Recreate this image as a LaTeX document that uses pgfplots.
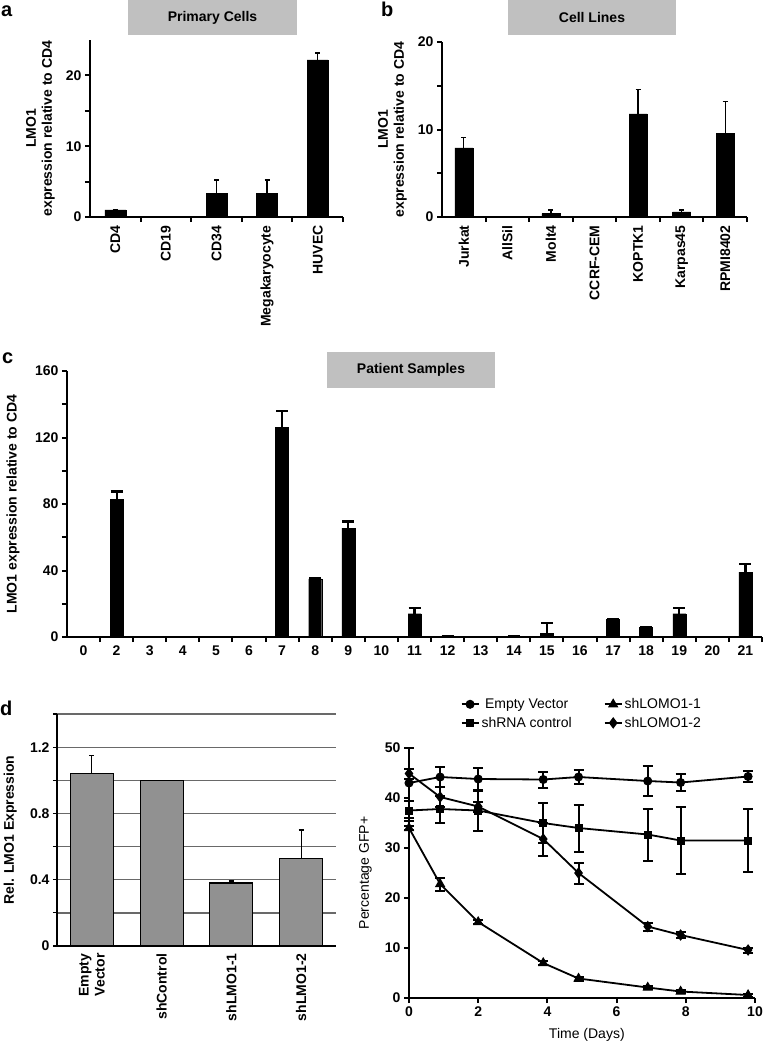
\documentclass[border=0pt]{standalone}
\usepackage{pgfplots}
\pgfplotsset{compat=1.18}
\usepackage{fontspec}
\setmainfont{Liberation Sans}
\definecolor{boxgray}{RGB}{192,192,192}
\definecolor{barg}{RGB}{145,145,145}
\definecolor{gridg}{RGB}{105,105,105}
\newcommand{\bfs}{\fontsize{14}{16}\selectfont\bfseries}
\newcommand{\rgs}{\fontsize{14}{16}\selectfont}
\newcommand{\pl}{\fontsize{20}{20}\selectfont\bfseries}
\pgfplotsset{
  base/.style={
    scale only axis, anchor=south west,
    axis x line*=bottom, axis y line*=left,
    enlargelimits=false,
    /pgf/number format/assume math mode=true,
    tick align=outside,
  },
  ylab/.style={every axis y label/.style={at={(axis description cs:#1,0.5)}, rotate=90, anchor=south, inner sep=0pt, align=center, font=\bfs}},
  blackbars/.style={
    base, ybar, ymin=0,
    axis line style={line width=2pt},
    tick style={line width=2pt, black},
    major tick length=5pt, minor tick length=5pt,
    major x tick style={draw=none},
    yticklabel style={font=\bfs},
  },
  errA/.style={fill=black, draw=black, error bars/.cd, y dir=plus, y explicit,
    error bar style={line width=1.3pt}, error mark options={rotate=90, mark size=2.5pt, line width=1.5pt}},
  errL/.style={black, line width=1.8pt, mark size=4pt, mark options={solid, line width=1pt},
    error bars/y dir=both, error bars/y explicit, error bars/error bar style={line width=2pt},
    error bars/error mark options={rotate=90, mark size=5pt, line width=2pt}},
}
\begin{document}
\begin{tikzpicture}
\useasboundingbox (0pt,0pt) rectangle (765pt,-1042pt);

% ---------------- panel a
\node[anchor=base west, inner sep=0pt, font=\pl] at (1pt,-16pt) {a};
\node[fill=boxgray, minimum width=169pt, minimum height=35pt, inner sep=0pt, font=\bfs] at (212.5pt,-17.5pt) {Primary Cells};
\begin{axis}[blackbars, at={(90pt,-217pt)}, width=253pt, height=177pt,
  xmin=-0.5, xmax=4.5, ymax=25,
  xtick={0,...,4}, xticklabels={CD4,CD19,CD34,Megakaryocyte,HUVEC},
  xticklabel style={rotate=90, anchor=east, font=\bfs},
  minor xtick={0.5,1.5,2.5,3.5,4.5},
  ytick={0,10,20}, minor ytick={5,15},
  bar width=21pt,
  ylab=-0.138, ylabel={LMO1\\expression relative to CD4}]
\addplot[errA] coordinates {(0,1.0) +- (0,0) (1,0) +- (0,0) (2,3.3) +- (0,1.9) (3,3.3) +- (0,1.9) (4,22.2) +- (0,1.0)};
\end{axis}

% ---------------- panel b
\node[anchor=base west, inner sep=0pt, font=\pl] at (381pt,-16pt) {b};
\node[fill=boxgray, minimum width=168pt, minimum height=35pt, inner sep=0pt, font=\bfs] at (592pt,-17.5pt) {Cell Lines};
\begin{axis}[blackbars, at={(442pt,-217pt)}, width=305pt, height=175pt,
  xmin=-0.5, xmax=6.5, ymax=20,
  xtick={0,...,6}, xticklabels={Jurkat,AllSil,Molt4,CCRF-CEM,KOPTK1,Karpas45,RPMI8402},
  xticklabel style={rotate=90, anchor=east, font=\bfs},
  minor xtick={0.5,1.5,2.5,3.5,4.5,5.5,6.5},
  ytick={0,10,20}, minor ytick={5,15},
  bar width=18pt,
  ylab=-0.115, ylabel={LMO1\\expression relative to CD4}]
\addplot[errA] coordinates {(0,7.9) +- (0,1.2) (1,0) +- (0,0) (2,0.4) +- (0,0.4) (3,0.05) +- (0,0) (4,11.8) +- (0,2.8) (5,0.6) +- (0,0.2) (6,9.6) +- (0,3.6)};
\end{axis}

% ---------------- panel c
\node[anchor=base west, inner sep=0pt, font=\pl] at (2pt,-363pt) {c};
\node[fill=boxgray, minimum width=168pt, minimum height=36pt, inner sep=0pt, font=\bfs] at (411pt,-370pt) {Patient Samples};
\begin{axis}[blackbars, at={(67pt,-637pt)}, width=695pt, height=266pt,
  xmin=-0.5, xmax=20.5, ymax=160,
  xtick={0,...,20}, xticklabels={0,2,3,4,5,6,7,8,9,10,11,12,13,14,15,16,17,18,19,20,21},
  minor xtick={0.5,1.5,...,20.5},
  xticklabel style={font=\bfs},
  ytick={0,40,...,160}, minor ytick={20,60,100,140},
  bar width=13pt, axis line style={line width=2.5pt},
  ylab=-0.068, ylabel={LMO1 expression relative to CD4}]
\addplot[fill=black, draw=black, error bars/.cd, y dir=plus, y explicit,
    error bar style={line width=2.2pt}, error mark options={rotate=90, mark size=6pt, line width=2.5pt}]
 coordinates {(0,0) +- (0,0) (1,83) +- (0,4.5) (2,0) +- (0,0) (3,0) +- (0,0) (4,0) +- (0,0) (5,0) +- (0,0)
 (6,126) +- (0,10) (7,35) +- (0,0.3) (8,65.5) +- (0,4) (9,0) +- (0,0) (10,14) +- (0,3.5)
 (11,0.5) +- (0,0) (12,0) +- (0,0) (13,0.5) +- (0,0) (14,2.4) +- (0,6) (15,0) +- (0,0)
 (16,10.8) +- (0,0) (17,6) +- (0,0) (18,14) +- (0,3.5) (19,0) +- (0,0) (20,39) +- (0,5)};
\end{axis}

% ---------------- panel d left
\node[anchor=base west, inner sep=0pt, font=\pl] at (0pt,-715pt) {d};
\begin{axis}[base, ybar, at={(57pt,-946pt)}, width=279pt, height=232pt,
  xmin=-0.5, xmax=3.5, ymin=0, ymax=1.4,
  xtick={0,...,3}, xticklabels={Empty\\Vector,shControl,shLMO1-1,shLMO1-2},
  xticklabel style={rotate=90, anchor=east, font=\bfs, align=center},
  yticklabel style={font=\bfs},
  ytick={0,0.4,0.8,1.2}, minor ytick={0.2,0.6,1.0,1.4},
  ymajorgrids, yminorgrids,
  major grid style={gridg, line width=1.3pt}, minor grid style={gridg, line width=1.3pt},
  axis line style={line width=1.3pt},
  major x tick style={draw=none},
  ytick style={line width=1.2pt, black}, major tick length=4pt, minor tick length=4pt,
  bar width=43pt,
  ylab=-0.143, ylabel={Rel. LMO1 Expression}]
\addplot[fill=barg, draw=black, line width=1.2pt, error bars/.cd, y dir=plus, y explicit,
   error bar style={line width=1.1pt}, error mark options={rotate=90, mark size=2.5pt, line width=1.3pt}]
 coordinates {(0,1.04) +- (0,0.11) (1,1.0) +- (0,0) (2,0.38) +- (0,0.012) (3,0.53) +- (0,0.17)};
\end{axis}

% ---------------- panel d right
\begin{axis}[base, at={(409pt,-998pt)}, width=346pt, height=250pt,
  xmin=0, xmax=10, ymin=0, ymax=50, clip=false,
  xtick={0,2,...,10}, ytick={0,10,...,50},
  axis line style={line width=2pt}, tick style={line width=2pt, black}, major tick length=5pt,
  ticklabel style={font=\bfs},
  xlabel={Time (Days)}, ylabel={Percentage GFP+},
  every axis x label/.style={at={(axis description cs:0.514,-0.148)}, anchor=center, font=\rgs},
  every axis y label/.style={at={(axis description cs:-0.107,0.5)}, rotate=90, anchor=south, inner sep=0pt, font=\rgs},
  legend columns=2,
  legend style={at={(axis description cs:0.14,1.215)}, anchor=north west, draw=none, fill=none, font=\rgs,
    /tikz/every even column/.append style={column sep=30pt}, row sep=3pt},
  ]
\addplot[errL, mark=*] coordinates {(0,43) +- (0,7) (0.9,44.2) +- (0,2) (2,43.8) +- (0,2.2) (3.88,43.7) +- (0,1.6)
  (4.9,44.2) +- (0,1.4) (6.9,43.4) +- (0,3) (7.85,43.1) +- (0,1.7) (9.8,44.3) +- (0,1.1)};
\addlegendentry{Empty Vector}
\addplot[errL, mark=triangle*, mark size=5pt] coordinates {(0,34) +- (0,0.4) (0.9,22.8) +- (0,1.3) (2,15.2) +- (0,0.4) (3.88,7) +- (0,0.4)
  (4.9,3.9) +- (0,0.4) (6.9,2.1) +- (0,0.3) (7.85,1.3) +- (0,0.3) (9.8,0.6) +- (0,0.3)};
\addlegendentry{shLOMO1-1}
\addplot[errL, mark=square*, mark size=3.5pt] coordinates {(0,37.5) +- (0,2) (0.9,37.8) +- (0,2.7) (2,37.5) +- (0,4) (3.88,35) +- (0,4)
  (4.9,34) +- (0,4.7) (6.9,32.7) +- (0,5.2) (7.85,31.5) +- (0,6.7) (9.8,31.5) +- (0,6.3)};
\addlegendentry{shRNA control}
\addplot[errL, mark=diamond*, mark size=5pt] coordinates {(0,44.9) +- (0,1) (0.9,40.2) +- (0,2) (2,38.3) +- (0,1) (3.88,31.8) +- (0,3.3)
  (4.9,25) +- (0,2.1) (6.9,14.3) +- (0,0.8) (7.85,12.6) +- (0,0.6) (9.8,9.6) +- (0,0.5)};
\addlegendentry{shLOMO1-2}
\end{axis}
\end{tikzpicture}
\end{document}
